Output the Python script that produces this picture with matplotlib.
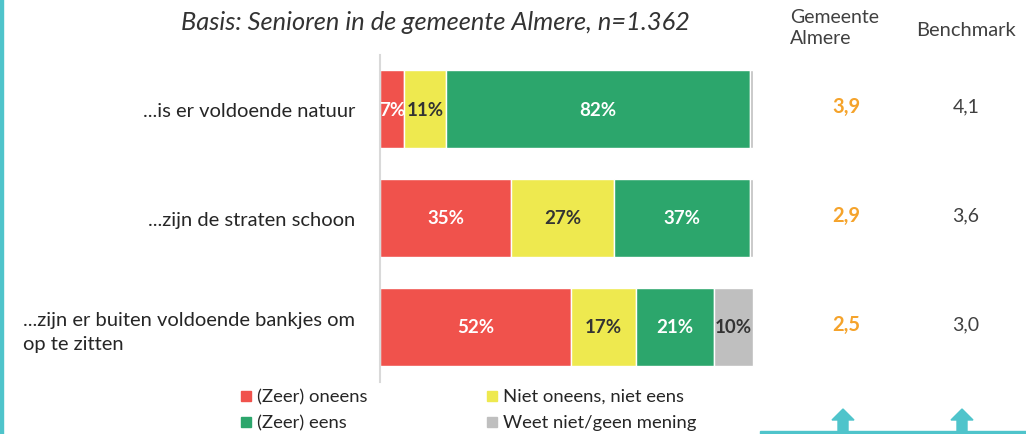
import matplotlib
matplotlib.use("Agg")
import matplotlib.pyplot as plt
import matplotlib.transforms as mtransforms
from matplotlib.patches import Rectangle, Polygon
import numpy as np

plt.rcParams['font.family'] = ['Lato', 'DejaVu Sans']

categories = ["...is er voldoende natuur",
              "...zijn de straten schoon",
              "...zijn er buiten voldoende bankjes om\nop te zitten"]
series_names = ["(Zeer) oneens", "Niet oneens, niet eens", "(Zeer) eens", "Weet niet/geen mening"]
oneens = [6.5, 35.2, 51.2]
neutraal = [11.2, 27.4, 17.3]
eens = [81.5, 36.6, 21.0]
weetniet = [0.8, 0.8, 10.5]
labels_oneens = ["7%", "35%", "52%"]
labels_neutraal = ["11%", "27%", "17%"]
labels_eens = ["82%", "37%", "21%"]
labels_weetniet = ["", "", "10%"]
almere = ["3,9", "2,9", "2,5"]
benchmark = ["4,1", "3,6", "3,0"]

colors = ["#F0524C", "#EEE94F", "#2CA66C", "#BFBFBF"]
label_colors = ["white", "#333333", "white", "#333333"]
teal = "#4FC4CB"
orange = "#F5A32B"

W, H = 1026, 435
fig = plt.figure(figsize=(W / 100, H / 100), dpi=100)
ax = fig.add_axes([380 / W, 1 - 382.5 / H, 375 / W, 327 / H])

series = [oneens, neutraal, eens, weetniet]
labels = [labels_oneens, labels_neutraal, labels_eens, labels_weetniet]
y = np.arange(len(categories))
left = np.zeros(len(categories))
for vals, col, lab, lc in zip(series, colors, labels, label_colors):
    vals = np.array(vals)
    bars = ax.barh(y, vals, left=left, height=0.72, color=col, edgecolor="white", linewidth=1.0)
    for i, (b, t) in enumerate(zip(bars, lab)):
        if t:
            ax.text(left[i] + vals[i] / 2, y[i], t, ha="center", va="center",
                    fontsize=13.5, fontweight="bold", color=lc)
    left += vals

ax.set_xlim(0, 100.5)
ax.set_ylim(len(categories) - 0.5, -0.5)
for s in ["top", "right", "bottom"]:
    ax.spines[s].set_visible(False)
ax.spines["left"].set_color("#D9D9D9")
ax.spines["left"].set_linewidth(1.5)
ax.set_xticks([])
ax.set_yticks(y)
ax.set_yticklabels(categories, fontsize=14.5, color="#262626", multialignment="left",
                   linespacing=1.45)
ax.tick_params(axis="y", length=0, pad=18)

# Right-hand columns
trans = mtransforms.blended_transform_factory(fig.transFigure, ax.transData)
for i in range(len(categories)):
    ax.text(846 / W, y[i] - 0.03, almere[i], transform=trans, ha="center", va="center",
            fontsize=14.5, fontweight="bold", color=orange)
    ax.text(966 / W, y[i] - 0.03, benchmark[i], transform=trans, ha="center", va="center",
            fontsize=14, color="#404040")

fig.text(790 / W, 1 - 28 / H, "Gemeente\nAlmere", ha="left", va="center",
         fontsize=14, color="#404040", linespacing=1.3)
fig.text(966 / W, 1 - 30 / H, "Benchmark", ha="center", va="center",
         fontsize=14.5, color="#404040")

# Title
fig.text(435 / W, 1 - 22 / H, "Basis: Senioren in de gemeente Almere, n=1.362",
         ha="center", va="center", fontsize=18.3, style="italic", color="#333333")

# Legend
leg_items = [(246, 397, 0), (492, 397, 1), (246, 423, 2), (492, 423, 3)]
for x0, y0, k in leg_items:
    fig.patches.append(Rectangle(((x0 - 5) / W, 1 - (y0 + 5) / H), 10 / W, 10 / H,
                                 transform=fig.transFigure, color=colors[k]))
    fig.text((x0 + 11) / W, 1 - y0 / H, series_names[k], ha="left", va="center",
             fontsize=13.3, color="#262626")

# Teal decorations
fig.patches.append(Rectangle((0, 0), 3 / W, 1, transform=fig.transFigure, color=teal))
fig.patches.append(Rectangle((760 / W, 0), (W - 760) / W, 3 / H,
                             transform=fig.transFigure, color=teal))
for cx in [843, 962]:
    pts = [(cx - 5, 435), (cx - 5, 421), (cx - 11, 421), (cx, 410),
           (cx + 11, 421), (cx + 5, 421), (cx + 5, 435)]
    fig.patches.append(Polygon([(px / W, 1 - py / H) for px, py in pts],
                               closed=True, transform=fig.transFigure, color=teal))

fig.savefig("out.png", dpi=100)
